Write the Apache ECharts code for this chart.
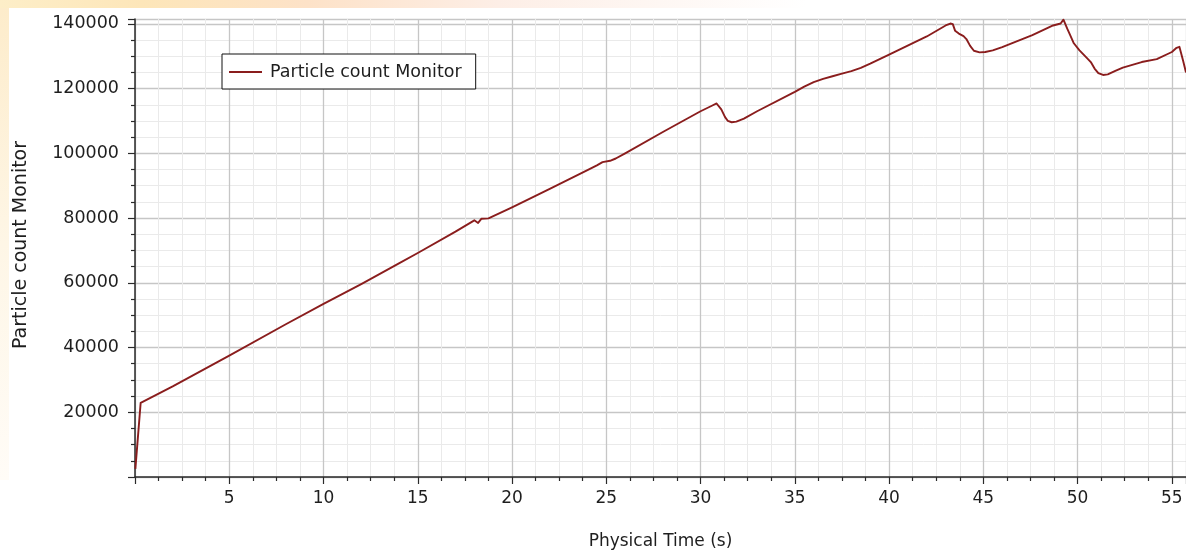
<!DOCTYPE html>
<html>
<head>
<meta charset="utf-8">
<style>
  html, body { margin: 0; padding: 0; background: #fff; }
  #chart { width: 1186px; height: 550px; }
</style>
<script src="https://cdn.jsdelivr.net/npm/echarts@6/dist/echarts.min.js"></script>
</head>
<body>
<div id="chart"></div>
<script>
// Physical time (s) of each monitor sample
const timeValues = [
  0.02, 0.3, 2, 5, 8, 10, 12, 14, 15, 17, 18, 18.05, 18.2, 18.38, 18.75,
  20, 22, 24, 24.5, 24.8, 25.2, 25.5, 26, 28, 30, 30.6, 30.85, 30.95, 31.1,
  31.3, 31.45, 31.65, 31.9, 32.3, 33, 35, 35.5, 36, 36.5, 37, 37.5, 38, 38.5,
  39, 40, 42, 43.0, 43.25, 43.38, 43.5, 43.7, 43.95, 44.1, 44.3, 44.5, 44.8,
  45.1, 45.5, 46, 47.6, 48.7, 49.1, 49.25, 49.35, 49.45, 49.6, 49.8, 50.1,
  50.5, 50.7, 50.9, 51.1, 51.35, 51.6, 52.0, 52.4, 53.4, 54.2, 55.0, 55.25,
  55.4, 55.5, 55.6, 55.75
];

// Particle count at each sample
const particleCounts = [
  2500, 22900, 28000, 37500, 47200, 53500, 59600, 66000, 69200, 75800, 79300, 79500, 78500, 79800, 79900,
  83300, 89000, 94800, 96300, 97300, 97700, 98400, 100000, 106600, 113000, 114700, 115400, 115100, 113600,
  111200, 110000, 109600, 109800, 110700, 113000, 119000, 120600, 122000, 123000, 123800, 124600, 125400, 126400,
  127700, 130500, 136100, 139500, 140100, 139900, 137900, 137000, 136200, 135300, 133200, 131700, 131200,
  131300, 131800, 132800, 136500, 139500, 140100, 141300, 140700, 138500, 136600, 134000, 131800,
  129400, 128200, 126200, 124800, 124200, 124400, 125500, 126500, 128200, 129100, 131300, 132600,
  132900, 132300, 128500, 125000
];

const seriesName = 'Particle count Monitor';
const xAxisTitle = 'Physical Time (s)';
const yAxisTitle = 'Particle count Monitor';

const points = timeValues.map((t, i) => [t, particleCounts[i]]);

const fontFamily = '"DejaVu Sans", Verdana, sans-serif';
const textColor = '#1e1e1e';
const axisColor = '#2a2a2a';
const majorGrid = '#c6c6c6';
const minorGrid = '#eaeaea';
const lineColor = '#8a1d1d';

const chart = echarts.init(document.getElementById('chart'), null, { renderer: 'canvas' });

chart.setOption({
  backgroundColor: '#ffffff',
  animation: false,
  graphic: [
    {
      // warm band along the top edge
      type: 'rect',
      left: 0, top: 0, z: -10,
      shape: { width: 1186, height: 8 },
      style: {
        fill: new echarts.graphic.LinearGradient(0, 0, 1, 0, [
          { offset: 0, color: '#fdeec8' },
          { offset: 0.12, color: '#fde6b9' },
          { offset: 0.26, color: '#fde2c8' },
          { offset: 0.42, color: '#fdeee6' },
          { offset: 0.68, color: '#ffffff' },
          { offset: 1, color: '#ffffff' }
        ])
      }
    },
    {
      // pale strip down the left edge
      type: 'rect',
      left: 0, top: 8, z: -10,
      shape: { width: 9, height: 472 },
      style: {
        fill: new echarts.graphic.LinearGradient(0, 0, 0, 1, [
          { offset: 0, color: '#fdeccb' },
          { offset: 0.5, color: '#fef6e6' },
          { offset: 1, color: '#fffcf7' }
        ])
      }
    }
  ],
  legend: {
    left: 222,
    top: 54,
    padding: [9, 14, 8, 7],
    backgroundColor: '#ffffff',
    borderColor: '#111111',
    borderWidth: 1,
    borderRadius: 0,
    itemWidth: 33,
    itemHeight: 2,
    icon: 'rect',
    textStyle: {
      fontFamily: fontFamily,
      fontSize: 17.5,
      color: textColor,
      padding: [0, 0, 0, 3]
    },
    data: [{ name: seriesName, itemStyle: { color: lineColor } }]
  },
  grid: {
    left: 135,
    right: 0,
    top: 19,
    bottom: 73,
    containLabel: false,
    outerBoundsMode: 'none'
  },
  xAxis: {
    type: 'value',
    min: 0,
    max: 55.75,
    interval: 5,
    name: xAxisTitle,
    nameLocation: 'middle',
    nameGap: 56,
    nameTextStyle: { fontFamily: fontFamily, fontSize: 17, color: textColor },
    axisLine: { show: true, onZero: false, lineStyle: { color: axisColor, width: 1.5 } },
    axisTick: { show: true, inside: false, length: 7, lineStyle: { color: axisColor, width: 1.2 } },
    minorTick: { show: true, splitNumber: 4, length: 4, lineStyle: { color: axisColor, width: 1.2 } },
    axisLabel: {
      fontFamily: fontFamily, fontSize: 17, color: textColor, margin: 13,
      showMinLabel: false, showMaxLabel: false
    },
    splitLine: { show: true, lineStyle: { color: majorGrid, width: 1.3 } },
    minorSplitLine: { show: true, lineStyle: { color: minorGrid, width: 1 } }
  },
  yAxis: {
    type: 'value',
    min: 0,
    max: 141500,
    interval: 20000,
    name: yAxisTitle,
    nameLocation: 'middle',
    nameGap: 104,
    nameTextStyle: { fontFamily: fontFamily, fontSize: 19, color: textColor, padding: [0, 0, 0, 6] },
    axisLine: { show: true, onZero: false, lineStyle: { color: axisColor, width: 1.5 } },
    axisTick: { show: true, inside: false, length: 7, lineStyle: { color: axisColor, width: 1.2 } },
    minorTick: { show: true, splitNumber: 4, length: 4, lineStyle: { color: axisColor, width: 1.2 } },
    axisLabel: {
      fontFamily: fontFamily, fontSize: 17.5, color: textColor, margin: 16,
      padding: [3, 0, 0, 0],
      showMinLabel: false, showMaxLabel: false,
      formatter: (v) => String(v)
    },
    splitLine: { show: true, lineStyle: { color: majorGrid, width: 1.3 } },
    minorSplitLine: { show: true, lineStyle: { color: minorGrid, width: 1 } }
  },
  series: [
    {
      name: seriesName,
      type: 'line',
      data: points,
      showSymbol: false,
      smooth: false,
      clip: true,
      lineStyle: { color: lineColor, width: 1.9, join: 'round' },
      itemStyle: { color: lineColor }
    }
  ]
});
</script>
</body>
</html>
